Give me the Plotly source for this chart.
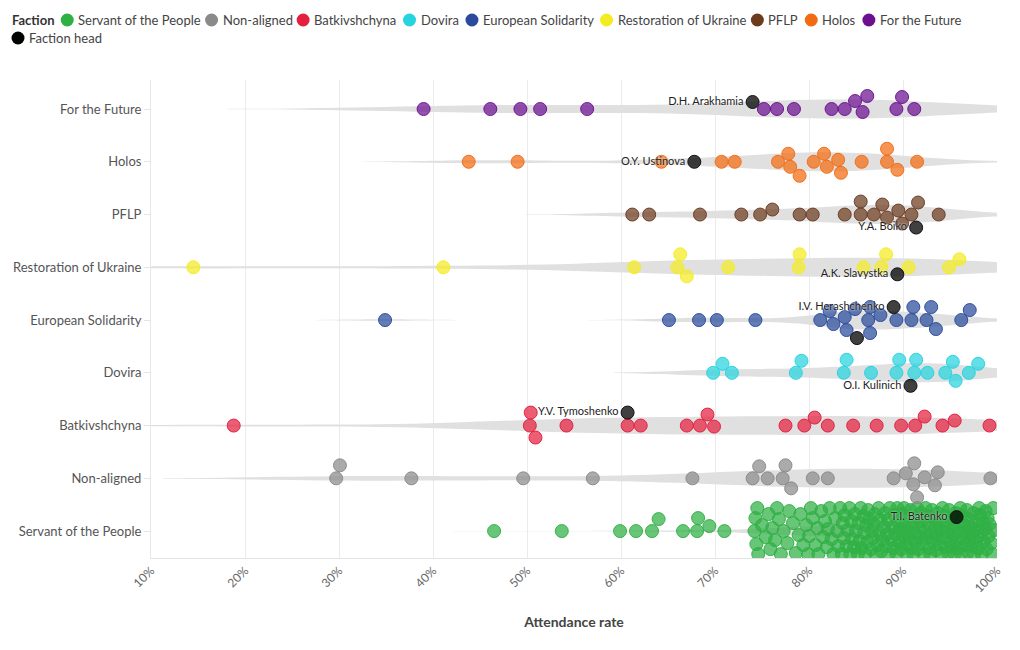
import plotly.graph_objects as go

# ---------------- data ----------------
factions = ["Servant of the People", "Non-aligned", "Batkivshchyna", "Dovira",
            "European Solidarity", "Restoration of Ukraine", "PFLP", "Holos", "For the Future"]
colors = ["#2fb044", "#8a8a8a", "#e3203f", "#27d3df", "#2a4b9b",
          "#f4ec22", "#6c3b1e", "#f26b12", "#6b1190"]

servant_vals = [
    46.5, 53.7, 59.9, 61.6, 63.3, 64.0, 66.6, 68.1, 68.2, 69.4, 71.0,
    74.2, 74.3, 74.4, 74.5, 74.6, 75.0, 75.4, 75.7, 75.9, 76.1, 76.4, 76.6, 76.8,
    77.0, 77.3, 77.7, 77.9, 78.3, 78.6, 78.9, 79.1, 79.4, 79.7, 79.9, 80.0, 80.2,
    80.4, 80.7, 80.9, 81.0, 81.3, 81.5, 81.7, 81.9, 82.0, 82.2, 82.4, 82.6, 82.8,
    83.0, 83.1, 83.3, 83.5, 83.6, 83.7, 83.8, 84.0, 84.1, 84.3, 84.4, 84.5, 84.6,
    84.8, 84.9, 85.0, 85.2, 85.3, 85.4, 85.5, 85.6, 85.8, 85.9, 86.0, 86.1, 86.2,
    86.3, 86.4, 86.6, 86.7, 86.8, 86.9, 87.0, 87.1, 87.3, 87.4, 87.5, 87.6, 87.7,
    87.8, 88.0, 88.1, 88.2, 88.3, 88.4, 88.5, 88.6, 88.8, 88.9, 89.0, 89.1, 89.2,
    89.3, 89.4, 89.5, 89.6, 89.7, 89.8, 89.9, 90.0, 90.1, 90.2, 90.3, 90.4, 90.5,
    90.6, 90.7, 90.8, 90.9, 91.0, 91.1, 91.2, 91.3, 91.4, 91.5, 91.6, 91.7, 91.8,
    91.9, 92.0, 92.1, 92.2, 92.3, 92.4, 92.5, 92.6, 92.7, 92.8, 92.9, 93.0, 93.1,
    93.2, 93.3, 93.4, 93.5, 93.6, 93.7, 93.8, 93.9, 94.0, 94.1, 94.2, 94.3, 94.4,
    94.5, 94.6, 94.7, 94.8, 94.9, 95.0, 95.1, 95.2, 95.3, 95.4, 95.5, 95.6, 95.7,
    95.8, 95.9, 96.0, 96.1, 96.2, 96.3, 96.4, 96.5, 96.6, 96.7, 96.8, 96.9, 97.0,
    97.1, 97.2, 97.3, 97.4, 97.5, 97.6, 97.7, 97.8, 97.9, 98.0, 98.1, 98.2, 98.3,
    98.4, 98.5, 98.6, 98.7, 98.8, 98.9, 99.0, 99.1, 99.2, 99.4, 99.5, 99.6, 99.7,
]
nonaligned_vals = [29.7, 30.1, 37.7, 49.6, 57.0, 67.6, 74.0, 74.7, 75.6, 77.5, 78.1, 77.2,
                   80.4, 82.0, 89.0, 90.3, 91.5, 93.4, 92.3, 93.7, 91.2, 91.1, 99.3]
batk_vals = [18.8, 50.4, 50.9, 50.3, 54.2, 60.7, 62.1, 67.0, 68.4, 69.2, 69.9, 77.5,
             79.5, 80.6, 82.0, 84.7, 87.2, 89.8, 91.3, 92.3, 94.2, 95.5, 99.2]
dovira_vals = [69.8, 70.8, 71.8, 78.6, 79.2, 83.7, 84.0, 86.6, 89.3, 89.6, 91.4, 91.2,
               92.6, 94.5, 95.3, 95.6, 97.0, 98.0]
eu_vals = [34.9, 65.1, 68.3, 70.2, 74.3, 81.2, 82.6, 82.2, 84.0, 83.8, 84.9, 86.3, 86.5,
           86.5, 87.6, 89.3, 90.9, 91.1, 92.5, 93.0, 93.5, 96.2, 97.1]
restoration_vals = [14.5, 41.1, 61.4, 66.3, 67.0, 66.0, 71.4, 78.9, 79.0, 85.8, 87.7,
                    88.2, 90.6, 94.9, 96.0]
pflp_vals = [61.2, 63.0, 68.4, 72.8, 74.8, 76.1, 79.0, 80.4, 83.8, 85.5, 85.5, 86.9, 87.8,
             88.3, 89.5, 89.9, 90.9, 91.6, 93.8]
holos_vals = [43.8, 49.0, 64.3, 70.7, 72.1, 76.7, 78.0, 77.8, 79.0, 80.5, 81.6, 81.9, 83.1,
              83.4, 85.6, 88.3, 88.3, 89.4, 91.5]
future_vals = [39.0, 46.1, 49.3, 51.4, 56.4, 75.2, 76.6, 78.4, 82.4, 83.8, 84.9, 85.7,
               86.2, 89.3, 89.9, 91.2]

faction_values = [servant_vals, nonaligned_vals, batk_vals, dovira_vals, eu_vals,
                  restoration_vals, pflp_vals, holos_vals, future_vals]

head_names = ["T.I. Batenko", "Y.V. Tymoshenko", "O.I. Kulinich", "I.V. Herashchenko", "",
              "A.K. Slavystka", "Y.A. Boiko", "O.Y. Ustinova", "D.H. Arakhamia"]
head_factions = ["Servant of the People", "Batkivshchyna", "Dovira", "European Solidarity",
                 "European Solidarity", "Restoration of Ukraine", "PFLP", "Holos", "For the Future"]
head_values = [95.7, 60.7, 90.8, 89.0, 85.1, 89.4, 91.4, 67.8, 74.0]

x_ticks = [10, 20, 30, 40, 50, 60, 70, 80, 90, 100]

# ---------------- layout geometry (figure px; page has an 8px body margin) ----------------
W, H = 1020, 650
ML, MR, MT, MB = 143, 31, 72, 100
X_RANGE = [10, 100]
Y_RANGE = [-0.51, 8.55]
PX_X = (W - ML - MR) / (X_RANGE[1] - X_RANGE[0])
PX_Y = (H - MT - MB) / (Y_RANGE[1] - Y_RANGE[0])
D = 13.0
CAP = 23


def swarm(vals, is_head):
    """Beeswarm offsets (in pixels, upward positive); heads are placed last."""
    xs = [(v - X_RANGE[0]) * PX_X for v in vals]
    order = sorted(range(len(vals)), key=lambda i: (is_head[i], xs[i]))
    placed = []
    out = [0.0] * len(vals)
    cands = [0]
    for k in range(1, CAP + 1):
        cands += [k, -k]
    for i in order:
        x = xs[i]
        nb = [(px, py) for px, py in placed if abs(px - x) < D]
        best = None
        for c in cands:
            if all((px - x) ** 2 + (py - c) ** 2 >= D * D for px, py in nb):
                best = c
                break
        if best is None:
            best = max(cands, key=lambda c: (min((px - x) ** 2 + (py - c) ** 2 for px, py in nb), -abs(c)))
        placed.append((x, best))
        out[i] = best
    return out


def rgba(hexc, a):
    h = hexc.lstrip("#")
    r, g, b = int(h[0:2], 16), int(h[2:4], 16), int(h[4:6], 16)
    return f"rgba({r},{g},{b},{a})"


fig = go.Figure()

# violins
for pos, (name, vals) in enumerate(zip(factions, faction_values)):
    allv = vals + [v for v, f in zip(head_values, head_factions) if f == name]
    fig.add_trace(go.Violin(
        x=allv, y0=pos, orientation="h", width=0.36, side="both",
        fillcolor="#e0e0e0", line=dict(width=0, color="rgba(0,0,0,0)"),
        points=False, hoverinfo="skip", showlegend=False, spanmode="soft",
        box_visible=False, meanline_visible=False, opacity=1,
    ))

head_x, head_y, head_t = [], [], []
for pos, (name, vals, col) in enumerate(zip(factions, faction_values, colors)):
    hv = [(v, n) for v, n, f in zip(head_values, head_names, head_factions) if f == name]
    allv = vals + [v for v, _ in hv]
    flags = [0] * len(vals) + [1] * len(hv)
    offs = swarm(allv, flags)
    ys = [pos + o / PX_Y for o in offs]
    n = len(vals)
    fig.add_trace(go.Scatter(
        x=vals, y=ys[:n], mode="markers", name=name, showlegend=False,
        marker=dict(size=D, color=rgba(col, 0.72), line=dict(width=1, color=rgba(col, 0.95))),
        hovertemplate=name + ": %{x:.1f}%<extra></extra>",
    ))
    for k, (v, nm) in enumerate(hv):
        head_x.append(v)
        head_y.append(ys[n + k])
        head_t.append(nm)

fig.add_trace(go.Scatter(
    x=head_x, y=head_y, mode="markers+text", text=head_t, textposition="middle left",
    textfont=dict(size=11, color="#222", family="Lato", shadow="0px 0px 2px #fff"),
    marker=dict(size=D, color="rgba(0,0,0,0.75)", line=dict(width=1, color="#111")),
    showlegend=False, name="Faction head",
    hovertemplate="%{text}: %{x:.1f}%<extra></extra>",
))

# ---------------- legend (drawn as shapes + text) ----------------
CW = {"a": .51, "b": .56, "c": .46, "d": .56, "e": .52, "f": .32, "g": .50, "h": .56,
      "i": .23, "j": .23, "k": .49, "l": .23, "m": .84, "n": .56, "o": .56, "p": .56,
      "q": .56, "r": .36, "s": .42, "t": .35, "u": .56, "v": .49, "w": .75, "x": .48,
      "y": .49, "z": .44, " ": .19, "-": .34, ".": .2, "A": .66, "B": .63, "C": .66,
      "D": .73, "E": .56, "F": .54, "H": .74, "K": .64, "L": .5, "O": .78, "P": .59,
      "R": .62, "S": .53, "T": .58, "U": .71, "Y": .6}


def est_w(t, size, bold=False):
    return sum(CW.get(ch, .55) for ch in t) * size * (1.06 if bold else 1.0)


LEG_FS = 13


def px2paper_x(px):
    return (px - ML) / (W - ML - MR)


def px2paper_y(py):
    return (H - MB - py) / (H - MT - MB)


annotations = []
shapes = []
row_y = 12
annotations.append(dict(text="<b>Faction</b>", x=px2paper_x(2), y=px2paper_y(row_y),
                        xref="paper", yref="paper", xanchor="left", yanchor="middle",
                        showarrow=False, font=dict(size=LEG_FS, color="#333")))
cx = 2 + est_w("Faction", LEG_FS, True) + 13
for name, col in zip(factions, colors):
    shapes.append(dict(type="circle", xref="paper", yref="paper", xsizemode="pixel",
                       ysizemode="pixel", xanchor=px2paper_x(cx), yanchor=px2paper_y(row_y),
                       x0=-6.5, x1=6.5, y0=-6.5, y1=6.5, fillcolor=col, line=dict(width=0)))
    annotations.append(dict(text=name, x=px2paper_x(cx + 9), y=px2paper_y(row_y),
                            xref="paper", yref="paper", xanchor="left", yanchor="middle",
                            showarrow=False, font=dict(size=LEG_FS, color="#444")))
    cx = cx + 9 + est_w(name, LEG_FS) + 16
row2_y = 30
shapes.append(dict(type="circle", xref="paper", yref="paper", xsizemode="pixel",
                   ysizemode="pixel", xanchor=px2paper_x(10), yanchor=px2paper_y(row2_y),
                   x0=-6.5, x1=6.5, y0=-6.5, y1=6.5, fillcolor="#000", line=dict(width=0)))
annotations.append(dict(text="Faction head", x=px2paper_x(19), y=px2paper_y(row2_y),
                        xref="paper", yref="paper", xanchor="left", yanchor="middle",
                        showarrow=False, font=dict(size=LEG_FS, color="#444")))

fig.update_layout(
    width=W, height=H,
    margin=dict(l=ML, r=MR, t=MT, b=MB, autoexpand=False),
    paper_bgcolor="white", plot_bgcolor="white",
    font=dict(family="Lato, 'Open Sans', sans-serif", size=13, color="#555"),
    violinmode="overlay", showlegend=False,
    annotations=annotations, shapes=shapes,
    xaxis=dict(range=X_RANGE, tickvals=x_ticks, ticktext=[f"{t}%" for t in x_ticks],
               tickangle=-45, tickfont=dict(size=12, color="#666"),
               showgrid=True, gridcolor="#ebebeb", gridwidth=1, zeroline=False,
               showline=True, linecolor="#e4e4e4", ticks="", automargin=False,
               title=dict(text="<b>Attendance rate</b>", font=dict(size=14, color="#444"),
                          standoff=22)),
    yaxis=dict(range=Y_RANGE, tickvals=list(range(len(factions))), ticktext=factions,
               showgrid=False, zeroline=False, showline=True, linecolor="#e8e8e8",
               ticks="outside", ticklen=6, tickcolor="#e4e4e4",
               tickfont=dict(size=13, color="#555"), automargin=False),
)

fig.write_html("out.html")
